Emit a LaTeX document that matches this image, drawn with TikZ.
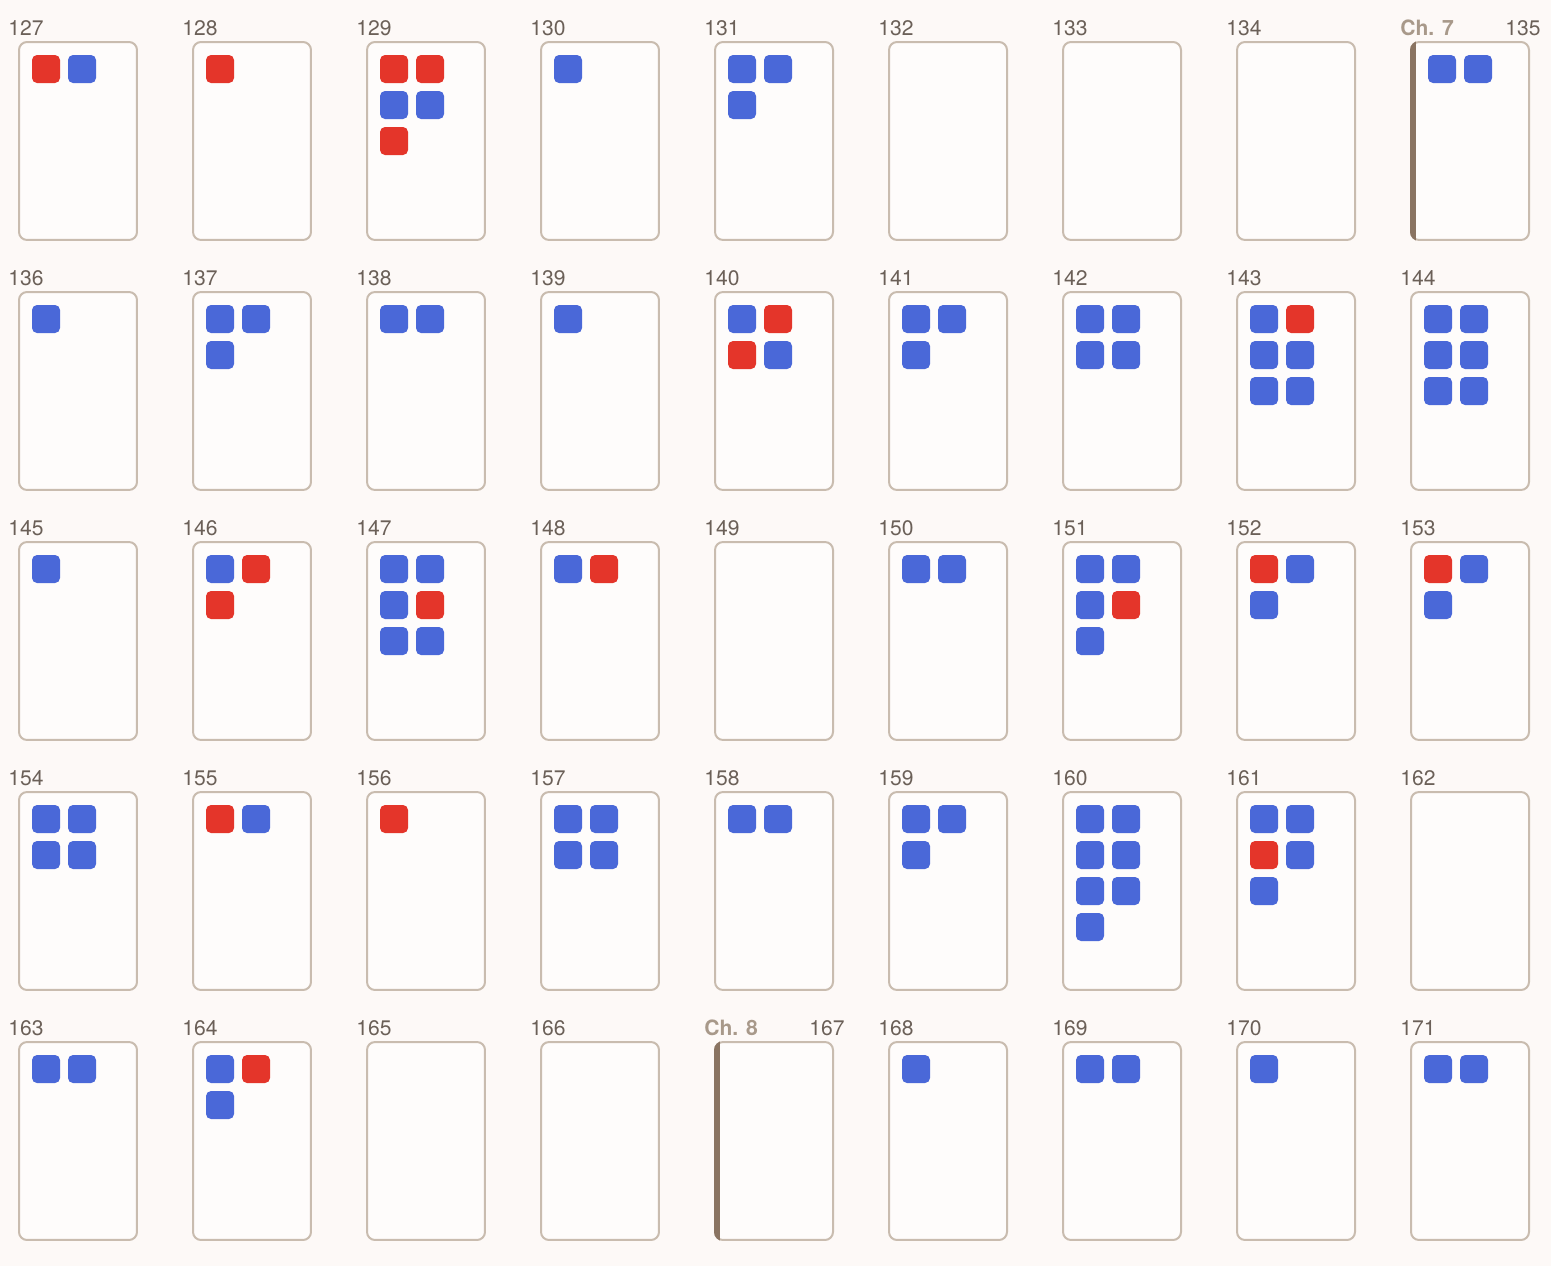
\documentclass[tikz,border=0pt]{standalone}
\usepackage{fontspec}
\setmainfont{TeX Gyre Heros}
\definecolor{paper}{HTML}{FDF9F7}
\definecolor{cardfill}{HTML}{FEFCFB}
\definecolor{cardline}{HTML}{C9BCAF}
\definecolor{numgray}{HTML}{6B6058}
\definecolor{chtan}{HTML}{A8998A}
\definecolor{chbrown}{HTML}{8A7462}
\definecolor{markred}{HTML}{E4352A}
\definecolor{markblue}{HTML}{4A68D8}
\tikzstyle{page}=[rectangle,draw=cardline,fill=cardfill,line width=0.04cm,rounded corners=0.16cm,minimum width=2.36cm,minimum height=3.96cm,inner sep=0pt,outer sep=0pt]
\tikzstyle{sqr}=[rectangle,fill=markred,rounded corners=0.1cm,minimum size=0.56cm,inner sep=0pt]
\tikzstyle{sqb}=[rectangle,fill=markblue,rounded corners=0.1cm,minimum size=0.56cm,inner sep=0pt]
\tikzstyle{pnum}=[inner sep=0pt,text=numgray,font=\fontsize{12}{14}\selectfont]
\tikzstyle{chap}=[inner sep=0pt,text=chtan,font=\fontsize{12}{14}\selectfont\bfseries]

\begin{document}
\begin{tikzpicture}[x=0.02cm,y=-0.02cm]
\fill[paper] (0,0) rectangle (1551,1266);
\useasboundingbox (0,0) rectangle (1551,1266);
% page / marks / chapter (x = none)
\foreach \n/\sq/\ch [count=\i from 0] in {
127/{r,b}/x,128/{r}/x,129/{r,r,b,b,r}/x,130/{b}/x,131/{b,b,b}/x,132/{x}/x,133/{x}/x,134/{x}/x,135/{b,b}/7,
136/{b}/x,137/{b,b,b}/x,138/{b,b}/x,139/{b}/x,140/{b,r,r,b}/x,141/{b,b,b}/x,142/{b,b,b,b}/x,143/{b,r,b,b,b,b}/x,144/{b,b,b,b,b,b}/x,
145/{b}/x,146/{b,r,r}/x,147/{b,b,b,r,b,b}/x,148/{b,r}/x,149/{x}/x,150/{b,b}/x,151/{b,b,b,r,b}/x,152/{r,b,b}/x,153/{r,b,b}/x,
154/{b,b,b,b}/x,155/{r,b}/x,156/{r}/x,157/{b,b,b,b}/x,158/{b,b}/x,159/{b,b,b}/x,160/{b,b,b,b,b,b,b}/x,161/{b,b,r,b,b}/x,162/{x}/x,
163/{b,b}/x,164/{b,r,b}/x,165/{x}/x,166/{x}/x,167/{x}/8,168/{b}/x,169/{b,b}/x,170/{b}/x,171/{b,b}/x}{
  \pgfmathtruncatemacro\col{mod(\i,9)}
  \pgfmathtruncatemacro\row{div(\i,9)}
  \node[page] (c\n) at (78+174*\col,141+250*\row) {};
  \if x\ch
    \def\indent{27}
    \node[pnum,anchor=base west] (l\n) at ([shift={(-11,-7)}]c\n.north west) {\n};
  \else
    \def\indent{31}
    \node[pnum,anchor=base east] (l\n) at ([shift={(12,-7)}]c\n.north east) {\n};
    \node[chap,anchor=base west] (ch\ch) at ([shift={(-11,-7)}]c\n.north west) {Ch. \ch};
    \begin{scope}
      \clip[rounded corners=0.18cm] ([shift={(-1,-1)}]c\n.north west) rectangle ([shift={(1,1)}]c\n.south east);
      \fill[chbrown] ([shift={(-1,-1)}]c\n.north west) rectangle ([shift={(5,1)}]c\n.south west);
    \end{scope}
  \fi
  \foreach \s [count=\k from 0] in \sq {
    \if x\s\else
      \pgfmathtruncatemacro\sc{mod(\k,2)}
      \pgfmathtruncatemacro\sr{div(\k,2)}
      \node[sq\s] (c\n-\k) at ([shift={(\indent+36*\sc,27+36*\sr)}]c\n.north west) {};
    \fi
  }
}
\end{tikzpicture}
\end{document}
